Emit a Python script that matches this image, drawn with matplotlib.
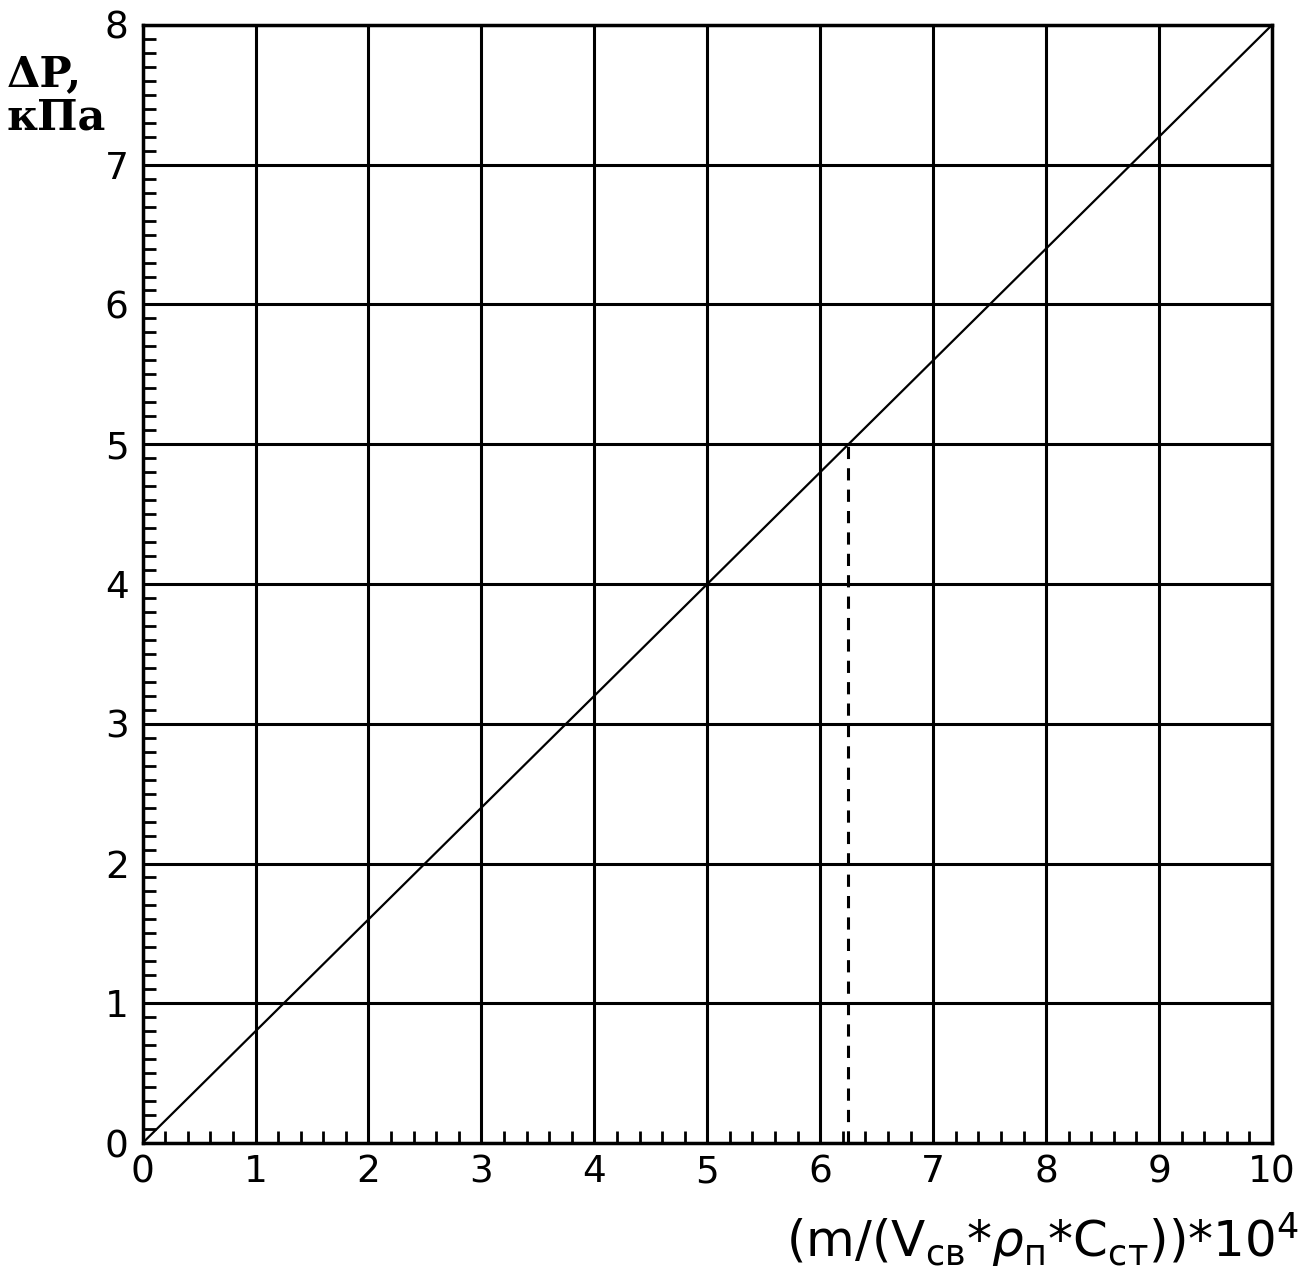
import numpy as np
import matplotlib.pyplot as plt
from matplotlib.ticker import MultipleLocator

# data
x_line = [0, 10]
y_line = [0, 8]
x_dash = [6.25, 6.25]
y_dash = [0, 5]
xticks = list(range(0, 11))
yticks = list(range(0, 9))

fig = plt.figure(figsize=(13.08, 12.79), dpi=100)
ax = fig.add_axes([0.109, 0.1063, 0.8635, 0.8742])

ax.plot(x_line, y_line, color='black', lw=1.6)
ax.plot(x_dash, y_dash, color='black', lw=2.2, ls=(0, (4, 3)))

ax.set_xlim(0, 10)
ax.set_ylim(0, 8)
ax.set_xticks(xticks)
ax.set_yticks(yticks)
ax.xaxis.set_minor_locator(MultipleLocator(0.2))
ax.yaxis.set_minor_locator(MultipleLocator(0.1))
ax.grid(True, which='major', color='black', lw=2.2)
ax.tick_params(which='major', direction='in', length=0, labelsize=27, pad=8)
ax.tick_params(which='minor', direction='in', length=9, width=2)
ax.tick_params(axis='y', which='major', pad=10)
for s in ax.spines.values():
    s.set_linewidth(2.5)

# y label, top left
fig.text(0.005, 0.925, 'ΔP,\nкПа', fontsize=31, fontweight='bold',
         family='DejaVu Serif', linespacing=1.05, va='center', ha='left')
# x label, bottom right
fig.text(0.993, 0.03,
         r'$(\mathrm{m}/(\mathrm{V}_{\mathrm{св}}{*}\rho_{\mathrm{п}}{*}\mathrm{C}_{\mathrm{ст}})){*}10^4$',
         fontsize=36, ha='right', va='center')

fig.savefig('out.png', dpi=100)
